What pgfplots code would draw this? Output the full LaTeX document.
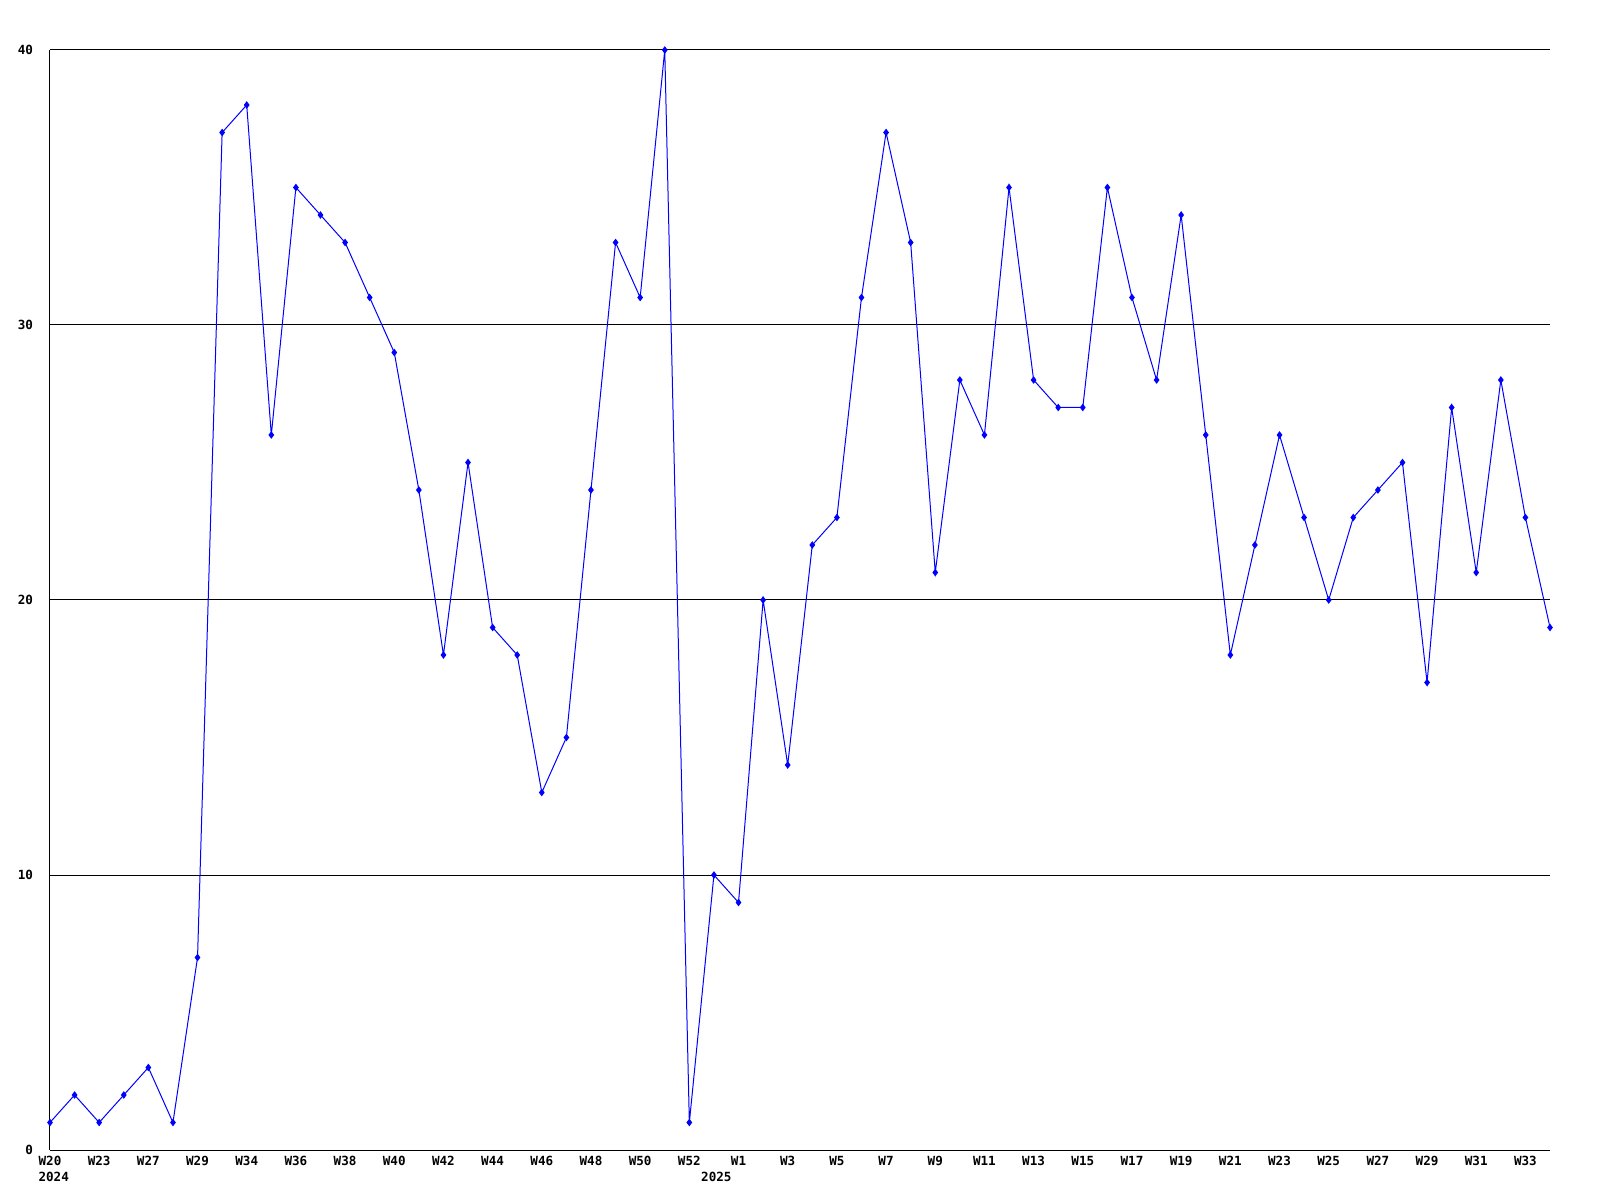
\documentclass[border=0pt]{standalone}
\usepackage{fontspec}
\setmonofont{DejaVu Sans Mono}
\usepackage{pgfplots}
\pgfplotsset{compat=1.18}

\pgfplotstableread{
x y
0 1
1 2
2 1
3 2
4 3
5 1
6 7
7 37
8 38
9 26
10 35
11 34
12 33
13 31
14 29
15 24
16 18
17 25
18 19
19 18
20 13
21 15
22 24
23 33
24 31
25 40
26 1
27 10
28 9
29 20
30 14
31 22
32 23
33 31
34 37
35 33
36 21
37 28
38 26
39 35
40 28
41 27
42 27
43 35
44 31
45 28
46 34
47 26
48 18
49 22
50 26
51 23
52 20
53 23
54 24
55 25
56 17
57 27
58 21
59 28
60 23
61 19
}\weekly

\newcommand{\lblfont}{\ttfamily\bfseries\fontsize{6.3}{7}\selectfont}

\begin{document}
\begin{tikzpicture}
  \begin{axis}[
    scale only axis,
    width=750pt, height=550pt,
    xmin=0, xmax=61,
    ymin=0, ymax=40,
    axis x line=bottom,
    axis y line=left,
    axis line style={-, black, line width=0.5pt},
    xtick={0,2,...,60},
    xticklabels={W20,W23,W27,W29,W34,W36,W38,W40,W42,W44,W46,W48,W50,W52,
      W1,W3,W5,W7,W9,W11,W13,W15,W17,W19,W21,W23,W25,W27,W29,W31,W33},
    ytick={0,10,20,30,40},
    major tick length=0pt,
    ymajorgrids,
    grid style={black, line width=0.5pt},
    /pgf/number format/assume math mode=true,
    tick label style={font=\lblfont},
    xticklabel style={yshift=0.5pt},
    yticklabel style={xshift=-5pt},
    clip=false,
  ]
  \addplot[blue, line width=0.5pt, mark=diamond*, mark size=1.5pt,
    mark options={fill=blue, draw=blue}] table[x=x, y=y] {\weekly};
  \node[font=\lblfont, anchor=center]
    at (axis cs:0.15,0) [yshift=-13.5pt] {2024};
  \node[font=\lblfont, anchor=center]
    at (axis cs:27.1,0) [yshift=-13.5pt] {2025};
  \path (rel axis cs:0,0) ++(-25pt,-25pt) coordinate (bbsw);
  \path (rel axis cs:1,1) ++(25pt,25pt) coordinate (bbne);
  \end{axis}
  \useasboundingbox (bbsw) rectangle (bbne);
\end{tikzpicture}
\end{document}
